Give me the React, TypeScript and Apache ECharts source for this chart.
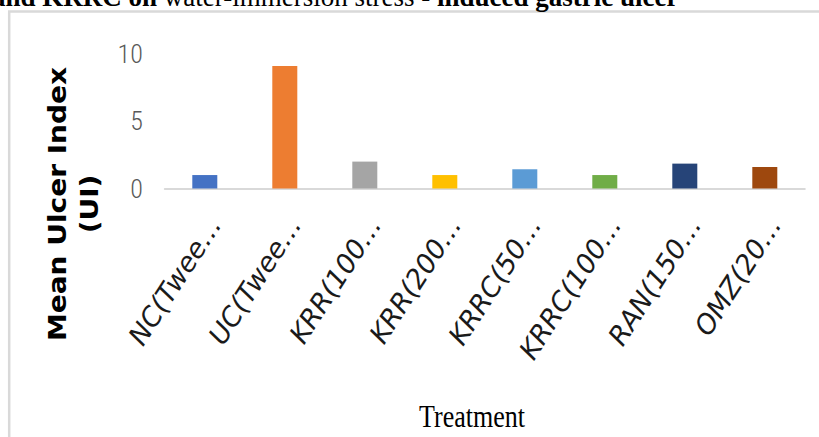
import React, { useEffect, useRef } from "react";
import * as echarts from "echarts";

// Treatment groups (labels as they appear, truncated by the axis)
const categories = [
  "NC(Twee…",
  "UC(Twee…",
  "KRR(100…",
  "KRR(200…",
  "KRRC(50…",
  "KRRC(100…",
  "RAN(150…",
  "OMZ(20…",
];

// Mean ulcer index per group
const ulcerIndex = [1.0, 9.1, 2.0, 1.0, 1.43, 1.0, 1.85, 1.6];

// One colour per treatment bar
const barColors = [
  "#4472C4",
  "#ED7D31",
  "#A5A5A5",
  "#FFC000",
  "#5B9BD5",
  "#70AD47",
  "#264478",
  "#9E480E",
];

// Y axis range and ticks
const yMin = 0;
const yMax = 10;
const yInterval = 5;

const titleBold1 = "and KRRC on ";
const titleRegular = "water-immersion stress";
const titleBold2 = " - induced gastric ulcer";
const yTitle = "Mean Ulcer Index\n(UI)";
const xTitle = "Treatment";

export default function App() {
  const ref = useRef<HTMLDivElement>(null);

  useEffect(() => {
    if (!ref.current) return;
    const chart = echarts.init(ref.current, null, { renderer: "svg" });

    chart.setOption({
      animation: false,
      backgroundColor: "#ffffff",
      grid: {
        left: 164.8,
        right: 14.2,
        top: 54,
        bottom: 248.5,
        containLabel: false,
      },
      xAxis: {
        type: "category",
        data: categories,
        axisLine: { show: true, lineStyle: { color: "#d9d9d9", width: 2 } },
        axisTick: { show: false },
        axisLabel: {
          rotate: 57,
          margin: 46,
          padding: [0, -18, 0, 0],
          interval: 0,
          color: "#1a1a1a",
          fontFamily: "DejaVu Sans",
          fontStyle: "italic",
          fontSize: 27,
        },
        splitLine: { show: false },
      },
      yAxis: {
        type: "value",
        min: yMin,
        max: yMax,
        interval: yInterval,
        axisLine: { show: false },
        axisTick: { show: false },
        splitLine: { show: false },
        axisLabel: {
          margin: 22,
          color: "#595959",
          fontFamily: "'Roboto Condensed', 'DejaVu Sans Condensed', Roboto",
          fontWeight: 300,
          fontSize: 26,
        },
      },
      series: [
        {
          type: "bar",
          barWidth: 25,
          data: ulcerIndex.map((v, i) => ({
            value: v,
            itemStyle: { color: barColors[i] },
          })),
        },
      ],
      graphic: [
        // chart area frame
        {
          type: "rect",
          shape: { x: 9.2, y: 11.5, width: 840, height: 460 },
          style: { fill: "none", stroke: "#d9d9d9", lineWidth: 2.5 },
          silent: true,
        },
        // caption line above the chart
        {
          type: "text",
          x: -8,
          y: -3,
          style: {
            text:
              "{b|" + titleBold1 + "}{r|" + titleRegular + "}{b|" + titleBold2 + "}",
            verticalAlign: "middle",
            rich: {
              b: {
                fontFamily: "Liberation Serif",
                fontWeight: "bold",
                fontSize: 27,
                fill: "#000000",
              },
              r: {
                fontFamily: "Liberation Serif",
                fontWeight: "normal",
                fontSize: 27,
                fill: "#000000",
              },
            },
          },
        },
        // y axis title
        {
          type: "text",
          x: 73,
          y: 204,
          rotation: Math.PI / 2,
          scaleX: 1.12,
          style: {
            text: yTitle,
            fontFamily: "DejaVu Sans",
            fontWeight: "bold",
            fontSize: 25,
            lineHeight: 32,
            align: "center",
            verticalAlign: "middle",
            fill: "#000000",
          },
        },
        // x axis title
        {
          type: "text",
          x: 472,
          y: 416,
          scaleY: 1.25,
          style: {
            text: xTitle,
            fontFamily: "Liberation Serif",
            fontSize: 26,
            align: "center",
            verticalAlign: "middle",
            fill: "#000000",
          },
        },
      ],
    });

    return () => chart.dispose();
  }, []);

  return (
    <div
      ref={ref}
      style={{ position: "fixed", left: 0, top: 0, width: 819, height: 437 }}
    />
  );
}
